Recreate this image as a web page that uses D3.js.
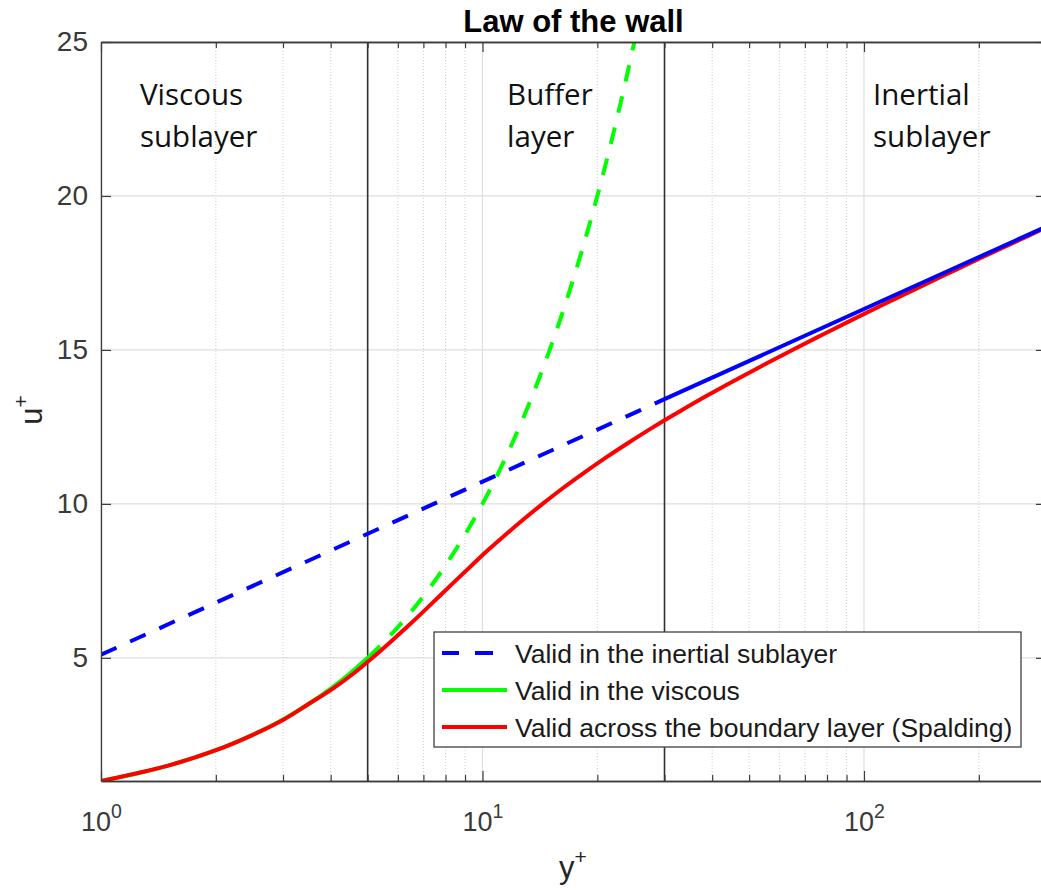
<!DOCTYPE html>
<html>
<head>
<meta charset="utf-8">
<script src="https://cdn.jsdelivr.net/npm/d3@7"></script>
<style>
  html, body { margin: 0; padding: 0; background: #fff; }
  svg { display: block; }
</style>
</head>
<body>
<svg id="chart" width="1041" height="890"></svg>
<script>
// ---------------- data ----------------
const titleText = "Law of the wall";
const xLabel = "y";
const yLabel = "u";
const xDomain = [1, 300];
const yDomain = [1, 25];
const xMajorTicks = [1, 10, 100];
const xMinorTicks = [2, 3, 4, 5, 6, 7, 8, 9, 20, 30, 40, 50, 60, 70, 80, 90, 200, 300];
const yTicks = [5, 10, 15, 20, 25];
const regionBounds = [5, 30];

// log law (valid in the inertial sublayer): [y+, u+]
const logLawDashed = [[1, 5.1], [30, 13.4]];
const logLawSolid = [[30, 13.4], [300, 19.0]];

// viscous sublayer u+ = y+ : [y+, u+]
const viscousSolid = [[1, 1], [1.25, 1.25], [1.5, 1.5], [1.75, 1.75], [2, 2], [2.5, 2.5], [3, 3], [3.5, 3.5], [4, 4], [4.5, 4.5], [5, 5]];
const viscousDashed = [[5, 5], [5.5, 5.5], [6, 6], [6.5, 6.5], [7, 7], [7.5, 7.5], [8, 8], [9, 9], [10, 10], [11, 11], [12, 12], [13, 13], [14, 14], [15, 15], [16, 16], [17, 17], [18, 18], [19, 19], [20, 20], [21, 21], [22, 22], [23, 23], [24, 24], [25, 25]];

// Spalding profile: [y+, u+]
const spalding = [[1.0, 1], [1.5, 1.5], [2.003, 2], [2.5, 2.5], [3.015, 3], [3.5, 3.5], [4.054, 4], [4.6, 4.5], [5.146, 5], [5.72, 5.5], [6.338, 6], [7.0, 6.5], [7.706, 7], [8.49, 7.5], [9.364, 8], [10.34, 8.5], [11.49, 9], [12.82, 9.5], [14.37, 10], [16.2, 10.5], [18.41, 11], [21.05, 11.5], [24.25, 12], [28.1, 12.5], [32.86, 13], [38.6, 13.5], [45.68, 14], [54.4, 14.5], [64.92, 15], [78.0, 15.5], [93.88, 16], [113.5, 16.5], [137.6, 17], [167.3, 17.5], [203.5, 18], [248.5, 18.5], [303.1, 19]];

const regionLabels = [["Viscous", "sublayer"], ["Buffer", "layer"], ["Inertial", "sublayer"]];
const regionLabelAt = [1.265, 11.6, 105.6];

const legendLabels = [
  "Valid in the inertial sublayer",
  "Valid in the viscous",
  "Valid across the boundary layer (Spalding)"
];
const colors = { blue: "#0000ff", green: "#00ff00", red: "#ff0000" };

// ---------------- chart ----------------
const svg = d3.select("#chart");
const L = 101, R = 1046, T = 42, B = 781;
const x = d3.scaleLog().domain(xDomain).range([L, R]);
const y = d3.scaleLinear().domain(yDomain).range([B, T]);
const axisColor = "#3c3c3c";
const tickFont = "'Liberation Sans', Arial, Helvetica, sans-serif";

svg.append("defs").append("clipPath").attr("id", "clip")
  .append("rect").attr("x", L).attr("y", T).attr("width", R - L).attr("height", B - T);

// grid
const grid = svg.append("g");
grid.selectAll(".gmin").data(xMinorTicks).join("line")
  .attr("x1", d => x(d)).attr("x2", d => x(d)).attr("y1", T).attr("y2", B)
  .attr("stroke", "#cfcfcf").attr("stroke-width", 1).attr("stroke-dasharray", "1,2");
grid.selectAll(".gmaj").data(xMajorTicks).join("line")
  .attr("x1", d => x(d)).attr("x2", d => x(d)).attr("y1", T).attr("y2", B)
  .attr("stroke", "#dedede").attr("stroke-width", 1.2);
grid.selectAll(".gy").data(yTicks).join("line")
  .attr("x1", L).attr("x2", R).attr("y1", d => y(d)).attr("y2", d => y(d))
  .attr("stroke", "#dedede").attr("stroke-width", 1.2);

// region boundaries
svg.append("g").selectAll("line").data(regionBounds).join("line")
  .attr("x1", d => x(d)).attr("x2", d => x(d)).attr("y1", T).attr("y2", B)
  .attr("stroke", "#303030").attr("stroke-width", 1.6);

// region labels
const rl = svg.append("g").attr("font-family", "'Open Sans', 'Noto Sans', sans-serif")
  .attr("font-size", 29.5).attr("fill", "#111");
regionLabels.forEach((lines, i) => {
  lines.forEach((t, j) => {
    rl.append("text").attr("x", x(regionLabelAt[i])).attr("y", 105 + j * 42).text(t);
  });
});

// curves
const line = d3.line().x(d => x(d[0])).y(d => y(d[1])).curve(d3.curveCatmullRom.alpha(0.5));
const plot = svg.append("g").attr("clip-path", "url(#clip)")
  .attr("fill", "none").attr("stroke-width", 4);
plot.append("path").datum(viscousSolid).attr("d", line).attr("stroke", colors.green);
plot.append("path").datum(viscousDashed).attr("d", line).attr("stroke", colors.green)
  .attr("stroke-dasharray", "17,15");
plot.append("path").datum(spalding).attr("d", line).attr("stroke", colors.red);
plot.append("path").datum(logLawDashed).attr("d", line).attr("stroke", colors.blue)
  .attr("stroke-dasharray", "17,15");
plot.append("path").datum(logLawSolid).attr("d", line).attr("stroke", colors.blue);

// axes
function styleAxis(g) {
  g.select(".domain").attr("stroke", axisColor).attr("stroke-width", 1.3);
  g.selectAll(".tick line").attr("stroke", axisColor).attr("stroke-width", 1.2);
}
// bottom major with labels
const gxb = svg.append("g").attr("transform", `translate(0,${B})`)
  .call(d3.axisBottom(x).tickValues(xMajorTicks).tickSizeInner(-10).tickSizeOuter(0).tickPadding(22));
styleAxis(gxb);
gxb.selectAll(".tick text").each(function(d) {
  const t = d3.select(this);
  t.text("").attr("font-family", tickFont).attr("font-size", 27).attr("fill", "#3a3a3a")
    .attr("dy", "1.05em");
  t.append("tspan").text("10");
  t.append("tspan").attr("dy", -13).attr("font-size", 19.5).text(Math.round(Math.log10(d)));
});
// bottom minor
styleAxis(svg.append("g").attr("transform", `translate(0,${B})`)
  .call(d3.axisBottom(x).tickValues(xMinorTicks).tickSizeInner(-6).tickSizeOuter(0).tickFormat("")));
// top
styleAxis(svg.append("g").attr("transform", `translate(0,${T})`)
  .call(d3.axisTop(x).tickValues(xMajorTicks).tickSizeInner(-10).tickSizeOuter(0).tickFormat("")));
styleAxis(svg.append("g").attr("transform", `translate(0,${T})`)
  .call(d3.axisTop(x).tickValues(xMinorTicks).tickSizeInner(-6).tickSizeOuter(0).tickFormat("")));
// left
const gyl = svg.append("g").attr("transform", `translate(${L},0)`)
  .call(d3.axisLeft(y).tickValues(yTicks).tickSizeInner(-10).tickSizeOuter(0).tickPadding(13));
styleAxis(gyl);
gyl.selectAll(".tick text").attr("font-family", tickFont).attr("font-size", 28).attr("fill", "#3a3a3a");
// right
styleAxis(svg.append("g").attr("transform", `translate(${R},0)`)
  .call(d3.axisRight(y).tickValues(yTicks).tickSizeInner(-10).tickSizeOuter(0).tickFormat("")));

// title
svg.append("text").attr("x", (L + R) / 2).attr("y", 32).attr("text-anchor", "middle")
  .attr("font-family", tickFont).attr("font-weight", "bold").attr("font-size", 31)
  .attr("fill", "#000").text(titleText);

// axis labels
const xl = svg.append("text").attr("x", 573).attr("y", 878).attr("text-anchor", "middle")
  .attr("font-family", tickFont).attr("font-size", 31).attr("fill", "#262626");
xl.append("tspan").text(xLabel);
xl.append("tspan").attr("dy", -14).attr("font-size", 21).text("+");

const yl = svg.append("text").attr("transform", "translate(42,410) rotate(-90)")
  .attr("text-anchor", "middle")
  .attr("font-family", tickFont).attr("font-size", 31).attr("fill", "#262626");
yl.append("tspan").text(yLabel);
yl.append("tspan").attr("dy", -14).attr("font-size", 21).text("+");

// legend
const lg = svg.append("g");
lg.append("rect").attr("x", 434).attr("y", 632).attr("width", 587).attr("height", 115)
  .attr("fill", "#fff").attr("stroke", "#404040").attr("stroke-width", 1.3);
const legendItems = [
  { label: legendLabels[0], color: colors.blue, dash: "17,16,18,40" },
  { label: legendLabels[1], color: colors.green, dash: null },
  { label: legendLabels[2], color: colors.red, dash: null }
];
legendItems.forEach((it, i) => {
  const cy = 653 + i * 37;
  lg.append("line").attr("x1", 442).attr("x2", 507).attr("y1", cy).attr("y2", cy)
    .attr("stroke", it.color).attr("stroke-width", 4)
    .attr("stroke-dasharray", it.dash);
  lg.append("text").attr("x", 515).attr("y", cy + 9.5)
    .attr("font-family", tickFont).attr("font-size", 26.5).attr("fill", "#1a1a1a")
    .text(it.label);
});
</script>
</body>
</html>
